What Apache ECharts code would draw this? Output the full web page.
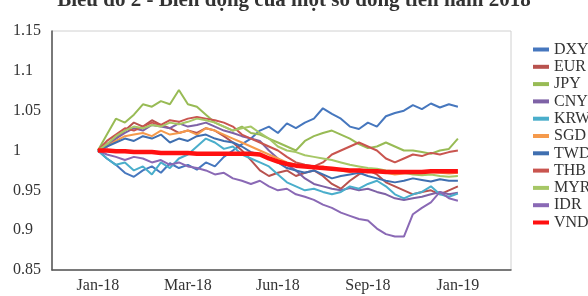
<!DOCTYPE html>
<html><head><meta charset="utf-8">
<script src="https://cdn.jsdelivr.net/npm/echarts@6/dist/echarts.min.js"></script>
<style>html,body{margin:0;padding:0;background:#fff}#c{width:588px;height:296px}</style>
</head><body><div id="c"></div>
<script>
const titleText = 'Biểu đồ 2 - Biến động của một số đồng tiền năm 2018';
const tickLabels = ['Jan-18', 'Mar-18', 'Jun-18', 'Sep-18', 'Jan-19'];
const tickPositions = [0, 10, 20, 30, 40];

const seriesNames = ['DXY','EUR','JPY','CNY','KRW','SGD','TWD','THB','MYR','IDR','VND'];
const DXY = [1.000,0.990,0.982,0.972,0.967,0.975,0.980,0.972,0.984,0.978,0.982,0.976,0.985,0.980,0.992,1.000,1.008,1.015,1.025,1.030,1.022,1.034,1.028,1.035,1.040,1.053,1.046,1.040,1.030,1.027,1.035,1.030,1.043,1.047,1.050,1.057,1.052,1.059,1.054,1.058,1.055];
const EUR = [1.000,1.005,1.015,1.025,1.035,1.030,1.038,1.032,1.028,1.022,1.025,1.022,1.028,1.025,1.018,1.010,1.000,0.988,0.975,0.968,0.972,0.975,0.968,0.972,0.975,0.968,0.958,0.952,0.962,0.970,0.975,0.970,0.960,0.955,0.950,0.945,0.948,0.950,0.945,0.950,0.955];
const JPY = [1.000,1.020,1.040,1.035,1.045,1.058,1.055,1.062,1.058,1.076,1.058,1.055,1.045,1.035,1.030,1.025,1.030,1.022,1.020,1.015,1.010,1.005,1.000,1.012,1.018,1.022,1.025,1.020,1.015,1.008,1.003,1.005,1.010,1.005,1.000,1.000,0.998,0.996,1.000,1.002,1.015];
const CNY = [1.000,1.008,1.015,1.022,1.028,1.025,1.032,1.030,1.028,1.034,1.030,1.032,1.035,1.030,1.025,1.022,1.018,1.015,1.012,1.000,0.990,0.982,0.975,0.965,0.958,0.955,0.952,0.950,0.953,0.950,0.952,0.948,0.945,0.940,0.938,0.940,0.942,0.945,0.948,0.945,0.947];
const KRW = [1.000,0.990,0.982,0.985,0.975,0.980,0.970,0.985,0.978,0.990,0.995,1.005,1.015,1.010,1.002,1.005,0.995,0.990,0.985,0.980,0.970,0.960,0.955,0.950,0.952,0.948,0.945,0.948,0.955,0.952,0.958,0.962,0.955,0.945,0.940,0.945,0.948,0.955,0.945,0.942,0.946];
const SGD = [1.000,1.005,1.012,1.018,1.020,1.022,1.018,1.025,1.020,1.022,1.025,1.020,1.028,1.025,1.020,1.015,1.010,1.005,1.000,0.995,0.990,0.985,0.982,0.980,0.978,0.980,0.976,0.975,0.973,0.976,0.975,0.973,0.972,0.970,0.971,0.972,0.971,0.973,0.972,0.971,0.972];
const TWD = [1.000,1.005,1.010,1.015,1.012,1.018,1.015,1.020,1.010,1.015,1.012,1.018,1.020,1.015,1.012,1.010,1.005,0.998,0.995,0.990,0.985,0.978,0.975,0.972,0.975,0.970,0.965,0.968,0.970,0.972,0.968,0.965,0.962,0.960,0.962,0.965,0.963,0.961,0.964,0.962,0.962];
const THB = [1.000,1.012,1.020,1.028,1.025,1.030,1.035,1.032,1.038,1.036,1.040,1.042,1.040,1.038,1.035,1.030,1.020,1.015,1.010,1.005,1.000,0.992,0.985,0.982,0.980,0.985,0.995,1.000,1.005,1.010,1.005,1.000,0.990,0.985,0.990,0.995,0.993,0.997,0.995,0.998,1.000];
const MYR = [1.000,1.008,1.018,1.025,1.030,1.028,1.032,1.030,1.035,1.033,1.036,1.040,1.038,1.035,1.030,1.025,1.028,1.030,1.022,1.015,1.005,1.000,0.998,0.994,0.992,0.990,0.988,0.985,0.982,0.980,0.978,0.977,0.975,0.974,0.972,0.970,0.969,0.970,0.968,0.967,0.968];
const IDR = [1.000,0.995,0.992,0.988,0.992,0.990,0.985,0.988,0.982,0.985,0.980,0.978,0.975,0.970,0.972,0.965,0.962,0.958,0.962,0.955,0.950,0.952,0.945,0.942,0.938,0.932,0.928,0.922,0.918,0.914,0.912,0.902,0.895,0.892,0.892,0.920,0.928,0.935,0.948,0.940,0.937];
const VND = [1.000,1.000,0.999,0.999,0.998,0.998,0.998,0.997,0.997,0.997,0.997,0.996,0.996,0.996,0.996,0.996,0.996,0.996,0.995,0.990,0.986,0.983,0.981,0.980,0.979,0.978,0.977,0.976,0.975,0.975,0.974,0.974,0.973,0.973,0.973,0.973,0.973,0.974,0.974,0.974,0.974];

const seriesValues = [DXY, EUR, JPY, CNY, KRW, SGD, TWD, THB, MYR, IDR, VND];
const colors = ['#4677BE','#B8524E','#98BB55','#7E62A6','#4AAECB','#F59A4C','#3F6FB0','#C9554F','#A6C766','#8A69B5','#FF1010'];

const chart = echarts.init(document.getElementById('c'), null, {renderer: 'canvas'});
const font = 'Liberation Serif, Times New Roman, serif';

const series = seriesNames.map((n, k) => ({
  name: n,
  type: 'line',
  symbol: 'none',
  data: seriesValues[k].map((v, i) => [i, v]),
  lineStyle: {width: n === 'VND' ? 4.5 : 2, color: colors[k]},
  itemStyle: {color: colors[k]},
  z: n === 'VND' ? 5 : 3
}));

chart.setOption({
  animation: false,
  backgroundColor: '#fff',
  title: {
    text: titleText, left: 'center', top: -15,
    textStyle: {fontFamily: font, fontWeight: 'bold', fontSize: 21, color: '#333'}
  },
  grid: {left: 52, right: 77, top: 31, bottom: 26, show: true, borderColor: '#d0d0d0', borderWidth: 1},
  legend: {
    orient: 'vertical', left: 528, top: 36,
    icon: 'rect', itemWidth: 16, itemHeight: 4, itemGap: 0.3,
    textStyle: {fontFamily: font, fontSize: 16, color: '#333', lineHeight: 17},
    data: seriesNames
  },
  xAxis: {
    type: 'value', min: -5.1, max: 45.9,
    axisLine: {show: true, onZero: false, lineStyle: {color: '#555', width: 1.5}},
    axisTick: {show: false},
    splitLine: {show: false},
    axisLabel: {
      customValues: tickPositions,
      formatter: v => tickLabels[tickPositions.indexOf(Math.round(v))] || '',
      fontFamily: font, fontSize: 16, color: '#333', margin: 8
    }
  },
  yAxis: {
    type: 'value', min: 0.85, max: 1.15, interval: 0.05,
    axisLine: {show: true, onZero: false, lineStyle: {color: '#555', width: 1.5}},
    axisTick: {show: false},
    splitLine: {show: false},
    axisLabel: {
      align: 'left', margin: 39,
      formatter: v => String(parseFloat(v.toFixed(2))),
      fontFamily: font, fontSize: 16, color: '#333'
    }
  },
  series: series
});
</script></body></html>
